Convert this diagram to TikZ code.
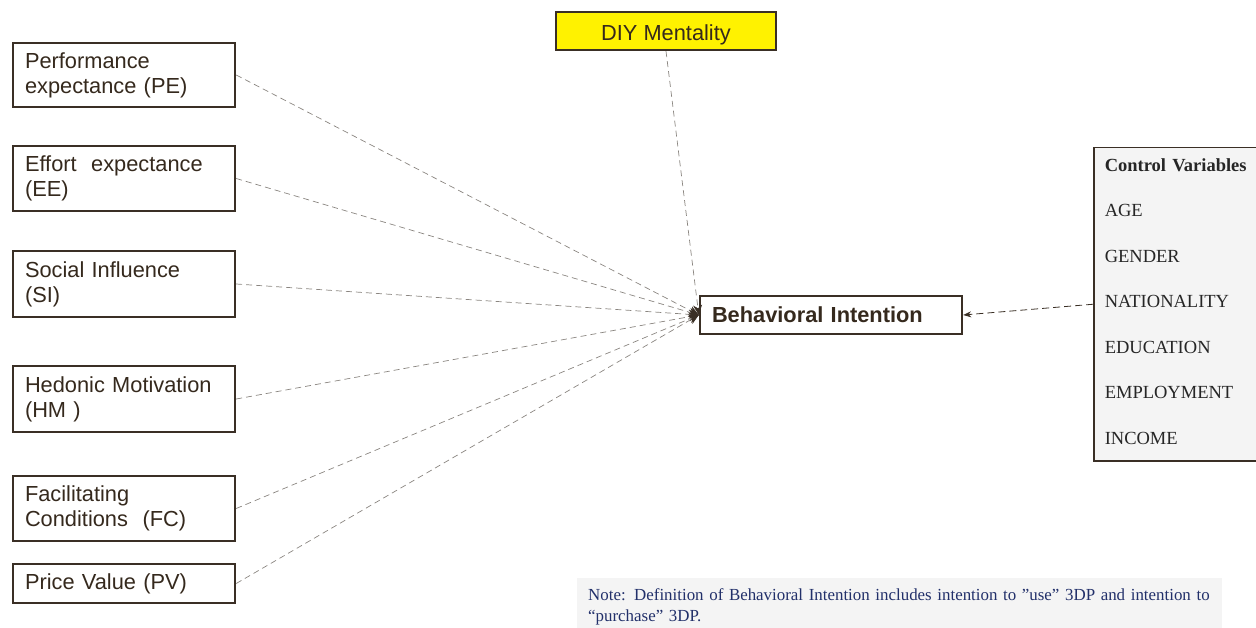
\documentclass[tikz,border=0pt]{standalone}
\usepackage{fontspec}
\setmainfont{Liberation Serif}
\setsansfont{Liberation Sans}
\usetikzlibrary{arrows.meta}

\definecolor{edge}{HTML}{3A2F25}
\definecolor{ink}{HTML}{35291D}
\definecolor{link}{HTML}{8A8580}
\definecolor{panel}{HTML}{F4F4F4}
\definecolor{notecol}{HTML}{22306A}

\tikzset{
  construct/.style={draw=edge, line width=2.4pt, fill=white, text=ink,
    minimum width=222pt, text width=198pt, inner xsep=12pt, inner ysep=0pt,
    align=left, font=\sffamily\fontsize{21.8}{25}\selectfont},
  center box/.style={draw=edge, line width=2.4pt, text=ink, inner sep=0pt,
    font=\sffamily\fontsize{21.8}{25}\selectfont},
  path link/.style={draw=link, line width=0.7pt, dash pattern=on 6pt off 4pt,
    -{Stealth[length=10pt,width=9pt,color=edge]}},
  control link/.style={draw=edge, line width=0.8pt, dash pattern=on 7pt off 4pt,
    -{Stealth[length=8pt,width=6pt]}},
}

\begin{document}
\begin{tikzpicture}[x=1pt,y=-1pt]
\useasboundingbox (0,0) rectangle (1256,628);
\clip (0,0) rectangle (1256,628);

% predictor constructs
\node[construct, minimum height=64pt] (PE) at (124,75)  {Performance\\expectance (PE)};
\node[construct, minimum height=65pt] (EE) at (124,178.5) {Effort~ expectance\\(EE)};
\node[construct, minimum height=66pt] (SI) at (124,284) {Social Influence\\(SI)};
\node[construct, minimum height=66pt] (HM) at (124,399) {Hedonic Motivation\\(HM )};
\node[construct, minimum height=65pt] (FC) at (124,508.5) {Facilitating\\Conditions~ (FC)};
\node[construct, minimum height=39pt] (PV) at (124,583.5) {Price Value (PV)};

% construct on top
\node[center box, fill=yellow, minimum width=220pt, minimum height=38pt,
      text height=20pt, text depth=0pt] (DIY) at (666,31) {DIY Mentality};

% outcome
\node[center box, fill=white, minimum width=262pt, minimum height=38pt, align=left,
      text width=238pt, inner xsep=12pt, font=\sffamily\bfseries\fontsize{21.8}{25}\selectfont]
      (BI) at (831,315) {Behavioral Intention};

% control variables panel
\node[draw=edge, line width=1.5pt, fill=panel, anchor=north west, text=black!85,
      text width=150pt, inner xsep=11pt, inner ysep=0pt, minimum height=313pt, align=left,
      font=\rmfamily\fontsize{18.5}{45.5}\selectfont]
      (CV) at (1093,147) {\textbf{Control Variables}\\AGE\\GENDER\\NATIONALITY\\EDUCATION\\EMPLOYMENT\\INCOME\rule[-6pt]{0pt}{6pt}};

% note
\node[fill=panel, anchor=north west, text=notecol, text width=623pt, inner xsep=11pt,
      inner ysep=0pt, minimum height=57pt, align=left,
      font=\rmfamily\fontsize{16.9}{21}\selectfont]
      (note) at (577,578) {Note: Definition of Behavioral Intention includes intention to ”use” 3DP and intention to\\“purchase” 3DP.};

% paths into behavioral intention
\foreach \src in {PE,EE,SI,HM,FC,PV}
  \draw[path link] (\src.east) -- (BI.west);
\draw[path link] (DIY.south) -- (BI.west);

% controls
\draw[control link] (CV.west) -- (BI.east);
\end{tikzpicture}
\end{document}
